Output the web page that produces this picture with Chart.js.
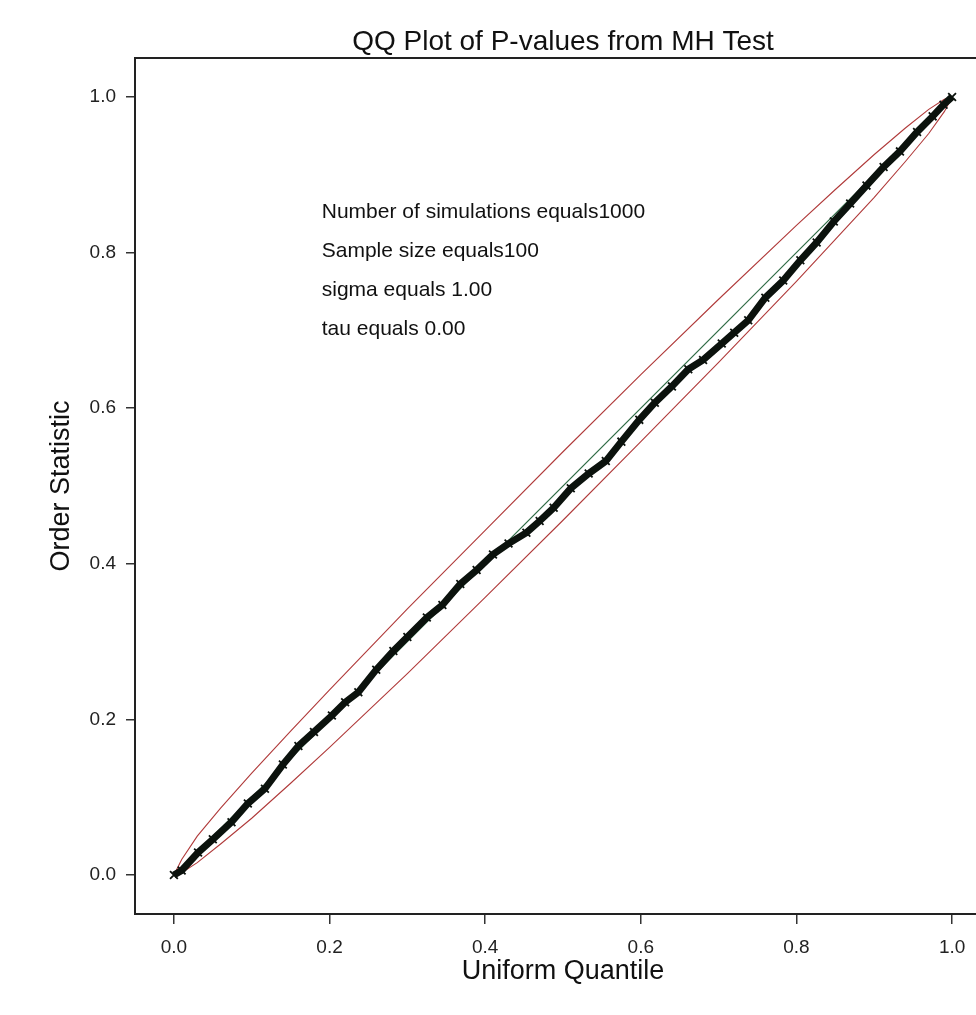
<!DOCTYPE html>
<html>
<head>
<meta charset="utf-8">
<title>QQ Plot of P-values from MH Test</title>
<script src="https://cdn.jsdelivr.net/npm/chart.js@4/dist/chart.umd.min.js"></script>
<style>
  html, body { margin: 0; padding: 0; background: #fff; overflow: hidden; }
  canvas { display: block; }
</style>
</head>
<body>
<canvas id="qq" width="1000" height="1015"></canvas>
<script>
// observed p-value order statistics vs uniform quantiles
const qX = [0, 0.01, 0.031, 0.05, 0.074, 0.095, 0.117, 0.14, 0.16, 0.18, 0.203, 0.22, 0.237, 0.26, 0.282, 0.30, 0.325, 0.345, 0.368, 0.389, 0.41, 0.43, 0.453, 0.47, 0.488, 0.51, 0.533, 0.555, 0.575, 0.598, 0.618, 0.64, 0.661, 0.68, 0.704, 0.72, 0.738, 0.76, 0.783, 0.805, 0.826, 0.848, 0.869, 0.89, 0.912, 0.933, 0.955, 0.975, 0.989, 1.0];
const qY = [0, 0.006, 0.029, 0.046, 0.068, 0.092, 0.111, 0.142, 0.166, 0.184, 0.205, 0.222, 0.235, 0.264, 0.288, 0.306, 0.331, 0.347, 0.374, 0.392, 0.412, 0.426, 0.44, 0.455, 0.472, 0.497, 0.516, 0.532, 0.557, 0.585, 0.607, 0.628, 0.65, 0.662, 0.683, 0.697, 0.713, 0.742, 0.764, 0.79, 0.813, 0.84, 0.863, 0.886, 0.91, 0.93, 0.955, 0.975, 0.99, 1.0];

// red envelope
const bandX = [0, 0.01, 0.03, 0.06, 0.1, 0.15, 0.2, 0.3, 0.4, 0.5, 0.6, 0.7, 0.8, 0.85, 0.9, 0.94, 0.97, 0.99, 1.0];
const upperY = [0, 0.02, 0.05, 0.086, 0.131, 0.185, 0.238, 0.342, 0.443, 0.544, 0.643, 0.74, 0.835, 0.881, 0.926, 0.96, 0.984, 0.997, 1.0];
const lowerY = [0, 0.003, 0.016, 0.04, 0.073, 0.118, 0.164, 0.259, 0.357, 0.456, 0.557, 0.659, 0.763, 0.817, 0.871, 0.917, 0.953, 0.981, 1.0];

// reference line y = x
const diagX = [0, 1];
const diagY = [0, 1];

const xTicks = [0, 0.2, 0.4, 0.6, 0.8, 1.0];
const yTicks = [0, 0.2, 0.4, 0.6, 0.8, 1.0];

const titleText = 'QQ Plot of P-values from MH Test';
const noteLines = ['Number of simulations equals1000', 'Sample size equals100', 'sigma equals 1.00', 'tau equals 0.00'];
const noteX = 0.19;
const noteY = 0.852;

const FONT = '"Liberation Sans", Arial, Helvetica, sans-serif';
Chart.defaults.font.family = FONT;

const pts = (xs, ys) => xs.map((x, i) => ({ x: x, y: ys[i] }));

// box around the plot, main title and the text block
const framePlugin = {
  id: 'frame',
  afterDraw(chart) {
    const { ctx, chartArea: a, scales } = chart;
    ctx.save();
    ctx.strokeStyle = '#222';
    ctx.lineWidth = 2;
    ctx.strokeRect(a.left, a.top, a.right - a.left, a.bottom - a.top);

    ctx.fillStyle = '#111';
    ctx.textAlign = 'center';
    ctx.textBaseline = 'middle';
    ctx.font = '28px ' + FONT;
    ctx.fillText(titleText, (a.left + a.right) / 2, 42);

    ctx.textAlign = 'left';
    ctx.font = '21px ' + FONT;
    const nx = scales.x.getPixelForValue(noteX);
    const ny = scales.y.getPixelForValue(noteY);
    noteLines.forEach((t, i) => ctx.fillText(t, nx, ny + i * 39));
    ctx.restore();
  }
};

new Chart(document.getElementById('qq').getContext('2d'), {
  type: 'scatter',
  data: {
    datasets: [
      {
        label: 'observed',
        data: pts(qX, qY),
        showLine: true,
        borderColor: '#0b120d',
        borderWidth: 7,
        pointStyle: 'crossRot',
        pointRadius: 5.5,
        pointBorderWidth: 1.8,
        pointBorderColor: '#0b120d',
        order: 0
      },
      {
        label: 'diagonal',
        data: pts(diagX, diagY),
        showLine: true,
        borderColor: '#2e6b45',
        borderWidth: 1.2,
        pointRadius: 0,
        order: 1
      },
      {
        label: 'upper',
        data: pts(bandX, upperY),
        showLine: true,
        borderColor: '#b03a3a',
        borderWidth: 1.1,
        pointRadius: 0,
        order: 2
      },
      {
        label: 'lower',
        data: pts(bandX, lowerY),
        showLine: true,
        borderColor: '#b03a3a',
        borderWidth: 1.1,
        pointRadius: 0,
        order: 2
      }
    ]
  },
  options: {
    responsive: false,
    animation: false,
    layout: { padding: { top: 58, right: 9, bottom: 0, left: 0 } },
    plugins: {
      legend: { display: false },
      title: { display: false },
      tooltip: { enabled: false }
    },
    scales: {
      x: {
        type: 'linear',
        position: 'bottom',
        min: -0.05,
        max: 1.05,
        afterBuildTicks: s => { s.ticks = xTicks.map(v => ({ value: v })); },
        afterFit: s => { s.height = 101; },
        border: { display: false },
        grid: { drawOnChartArea: false, drawTicks: true, tickLength: 10, color: '#333', lineWidth: 1.5 },
        ticks: { padding: 12, color: '#222', font: { size: 19 }, maxRotation: 0, autoSkip: false, callback: v => v.toFixed(1) },
        title: { display: true, text: 'Uniform Quantile', color: '#111', font: { size: 27 }, padding: { top: 0, bottom: 27 } }
      },
      y: {
        type: 'linear',
        position: 'left',
        min: -0.05,
        max: 1.05,
        afterBuildTicks: s => { s.ticks = yTicks.map(v => ({ value: v })); },
        afterFit: s => { s.width = 135; },
        border: { display: false },
        grid: { drawOnChartArea: false, drawTicks: true, tickLength: 9, color: '#333', lineWidth: 1.5 },
        ticks: { padding: 10, color: '#222', font: { size: 19 }, autoSkip: false, callback: v => v.toFixed(1) },
        title: { display: true, text: 'Order Statistic', color: '#111', font: { size: 27 }, padding: { top: 45, bottom: 0 } }
      }
    }
  },
  plugins: [framePlugin]
});
</script>
</body>
</html>
